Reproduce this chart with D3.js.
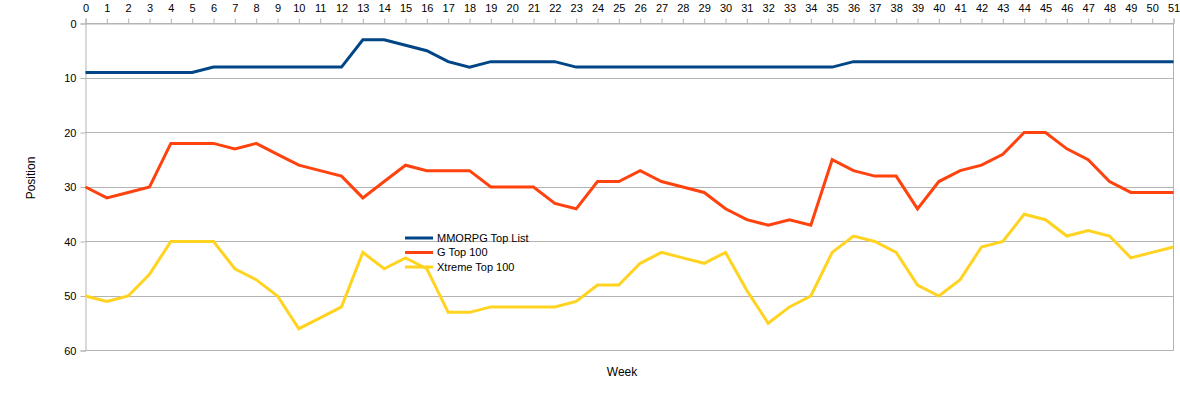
<!DOCTYPE html>
<html>
<head>
<meta charset="utf-8">
<script src="https://cdn.jsdelivr.net/npm/d3@7"></script>
<style>
  body { margin: 0; background: #fff; }
  svg { display: block; font-family: 'Liberation Sans', Arial, sans-serif; }
</style>
</head>
<body>
<div id="chart"></div>
<script>
var weeks = d3.range(0, 52);
var yTicks = [0, 10, 20, 30, 40, 50, 60];
var seriesNames = ['MMORPG Top List', 'G Top 100', 'Xtreme Top 100'];
var seriesColors = ['#004586', '#ff420e', '#ffd320'];

var mmorpg = [9, 9, 9, 9, 9, 9, 8, 8, 8, 8, 8, 8, 8, 3, 3, 4, 5, 7, 8, 7,
    7, 7, 7, 8, 8, 8, 8, 8, 8, 8, 8, 8, 8, 8, 8, 8, 7, 7, 7, 7,
    7, 7, 7, 7, 7, 7, 7, 7, 7, 7, 7, 7];
var gTop = [30, 32, 31, 30, 22, 22, 22, 23, 22, 24, 26, 27, 28, 32, 29, 26, 27, 27, 27, 30,
    30, 30, 33, 34, 29, 29, 27, 29, 30, 31, 34, 36, 37, 36, 37, 25, 27, 28, 28, 34,
    29, 27, 26, 24, 20, 20, 23, 25, 29, 31, 31, 31];
var xtreme = [50, 51, 50, 46, 40, 40, 40, 45, 47, 50, 56, 54, 52, 42, 45, 43, 45, 53, 53, 52,
    52, 52, 52, 51, 48, 48, 44, 42, 43, 44, 42, 49, 55, 52, 50, 42, 39, 40, 42, 48,
    50, 47, 41, 40, 35, 36, 39, 38, 39, 43, 42, 41];

var margin = { top: 23.5, right: 6.5, bottom: 43.5, left: 85.5 };
var width = 1180 - margin.left - margin.right;
var height = 394 - margin.top - margin.bottom;

var x = d3.scaleLinear().domain([0, 51]).range([0, width]);
var y = d3.scaleLinear().domain([0, 60]).range([0, height]);

var svg = d3.select('#chart')
    .append('svg')
    .attr('width', 1180)
    .attr('height', 394);

var g = svg.append('g')
    .attr('transform', `translate(${margin.left}, ${margin.top})`);

// grid
g.append('g')
    .selectAll('line')
    .data(yTicks)
    .join('line')
    .attr('x1', 0)
    .attr('x2', width)
    .attr('y1', d => Math.round(y(d)))
    .attr('y2', d => Math.round(y(d)))
    .attr('stroke', '#b3b3b3')
    .attr('stroke-width', 1);

g.append('line')
    .attr('x1', width).attr('x2', width)
    .attr('y1', 0).attr('y2', height)
    .attr('stroke', '#b3b3b3');

var xAxis = d3.axisTop(x).tickValues(weeks).tickSize(5).tickPadding(7).tickFormat(d3.format('d'));
var yAxis = d3.axisLeft(y).tickValues(yTicks).tickSize(5).tickPadding(4);

var gx = g.append('g').attr('class', 'x-axis').call(xAxis);
var gy = g.append('g').attr('class', 'y-axis').call(yAxis);

[gx, gy].forEach(function (ax) {
    ax.select('.domain').attr('stroke', '#b3b3b3');
    ax.selectAll('.tick line').attr('stroke', '#b3b3b3');
    ax.selectAll('.tick text')
        .attr('fill', '#000')
        .style('font-size', '11px')
        .style('font-family', 'Liberation Sans, Arial, sans-serif');
});

var line = d3.line()
    .x((d, i) => x(weeks[i]))
    .y(d => y(d));

[mmorpg, gTop, xtreme].forEach(function (vals, i) {
    g.append('path')
        .datum(vals)
        .attr('fill', 'none')
        .attr('stroke', seriesColors[i])
        .attr('stroke-width', 3)
        .attr('stroke-linejoin', 'miter')
        .attr('d', line);
});

// legend
var legend = svg.append('g').attr('transform', 'translate(405, 238)');
seriesNames.forEach(function (name, i) {
    var row = legend.append('g').attr('transform', `translate(0, ${i * 14.5})`);
    row.append('line')
        .attr('x1', 0).attr('x2', 28)
        .attr('y1', 0).attr('y2', 0)
        .attr('stroke', seriesColors[i])
        .attr('stroke-width', 3);
    row.append('text')
        .attr('x', 32)
        .attr('y', 0)
        .attr('dy', '0.35em')
        .style('font-size', '11px')
        .style('fill', '#000')
        .text(name);
});

// axis titles
svg.append('text')
    .attr('transform', 'translate(35, 178) rotate(-90)')
    .attr('text-anchor', 'middle')
    .style('font-size', '12px')
    .text('Position');

svg.append('text')
    .attr('x', 622)
    .attr('y', 376)
    .attr('text-anchor', 'middle')
    .style('font-size', '12px')
    .text('Week');
</script>
</body>
</html>
